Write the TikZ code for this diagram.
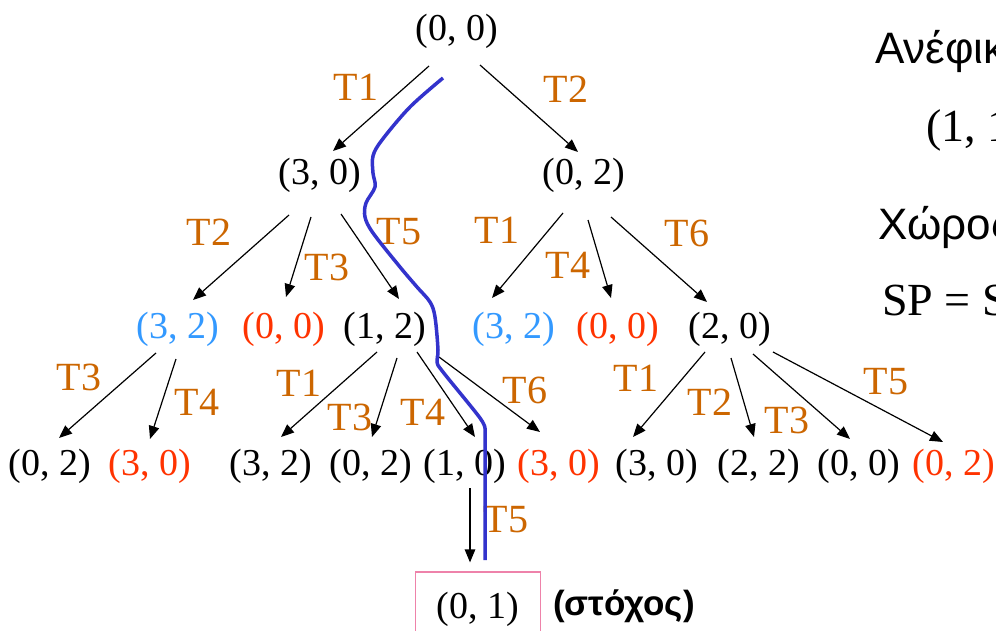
\documentclass[tikz,border=0pt]{standalone}
\usepackage{fontspec}
\setmainfont{Liberation Serif}
\newfontfamily\grsans{Liberation Sans}
\usetikzlibrary{arrows.meta,calc}
\definecolor{lblc}{RGB}{204,102,0}
\definecolor{bluen}{RGB}{51,153,255}
\definecolor{redn}{RGB}{255,51,0}
\definecolor{pathc}{RGB}{51,51,204}
\definecolor{pinkc}{RGB}{238,130,170}
\begin{document}
\begin{tikzpicture}[x=1pt,y=-1pt,
  st/.style={font=\fontsize{38}{40}\selectfont, inner sep=0pt, anchor=base},
  bst/.style={st, text=bluen},
  rst/.style={st, text=redn},
  lbl/.style={font=\fontsize{40}{42}\selectfont, text=lblc, inner sep=0pt},
  arr/.style={-{Triangle[length=13pt,width=10.5pt]}, line width=1.2pt},
  bigtxt/.style={font=\fontsize{46}{48}\selectfont, inner sep=0pt, anchor=base west},
  grtxt/.style={font=\grsans\fontsize{44}{46}\selectfont, inner sep=0pt, anchor=base west},
  solpath/.style={draw=pathc, line width=3.5pt, line join=round}
]
\useasboundingbox (0,0) rectangle (996,631);
\clip (0,0) rectangle (996,631);
\fill[white] (0,0) rectangle (996,631);

% nodes
\node[st] (r) at (457,41) {(0, 0)};
\node[st] (a) at (320,185) {(3, 0)};
\node[st] (b) at (584,185) {(0, 2)};
\node[bst] (c1) at (178,338) {(3, 2)};
\node[rst] (c2) at (284,338) {(0, 0)};
\node[st] (c3) at (385,338) {(1, 2)};
\node[bst] (c4) at (514,338) {(3, 2)};
\node[rst] (c5) at (618,338) {(0, 0)};
\node[st] (c6) at (730,338) {(2, 0)};
\node[st] (d1) at (50,475) {(0, 2)};
\node[rst] (d2) at (150,475) {(3, 0)};
\node[st] (d3) at (271,475) {(3, 2)};
\node[st] (d4) at (371,475) {(0, 2)};
\node[st] (d5) at (465,475) {(1, 0)};
\node[rst] (d6) at (559,475) {(3, 0)};
\node[st] (d7) at (657,475) {(3, 0)};
\node[st] (d8) at (759,475) {(2, 2)};
\node[st] (d9) at (859,475) {(0, 0)};
\node[rst] (d10) at (954,475) {(0, 2)};
\node[font=\fontsize{38}{40}\selectfont, draw=pinkc, line width=1.2pt,
      minimum width=125pt, minimum height=74pt, inner sep=0pt] (g) at (478,609) {(0, 1)};
\node[font=\grsans\bfseries\fontsize{35}{37}\selectfont, inner sep=0pt, anchor=base west] (gl) at (553,615) {(στόχος)};

% arrows
\draw[arr] ($(r.base)+(-28,25)$) -- ($(a.base)+(13,-34)$);
\draw[arr] ($(r.base)+(23,24)$) -- ($(b.base)+(-6,-33)$);
\draw[arr] ($(a.base)+(-31,30)$) -- ($(c1.base)+(15,-38)$);
\draw[arr] ($(a.base)+(-9,32)$) -- ($(c2.base)+(2,-41)$);
\draw[arr] ($(a.base)+(21,29)$) -- ($(c3.base)+(14,-39)$);
\draw[arr] ($(b.base)+(-21,28)$) -- ($(c4.base)+(-22,-40)$);
\draw[arr] ($(b.base)+(4,35)$) -- ($(c5.base)+(-7,-40)$);
\draw[arr] ($(b.base)+(27,32)$) -- ($(c6.base)+(-23,-36)$);
\draw[arr] ($(c1.base)+(-22,15)$) -- ($(d1.base)+(9,-37)$);
\draw[arr] ($(c1.base)+(-2,21)$) -- ($(d2.base)+(0,-36)$);
\draw[arr] ($(c3.base)+(-8,14)$) -- ($(d3.base)+(10,-38)$);
\draw[arr] ($(c3.base)+(12,20)$) -- ($(d4.base)+(1,-38)$);
\draw[arr] ($(c3.base)+(32,14)$) -- ($(d5.base)+(10,-38)$);
\draw[arr] ($(c3.base)+(54,19)$) -- ($(d6.base)+(-19,-43)$);
\draw[arr] ($(c6.base)+(-25,14)$) -- ($(d7.base)+(-24,-38)$);
\draw[arr] ($(c6.base)+(1,20)$) -- ($(d8.base)+(-5,-38)$);
\draw[arr] ($(c6.base)+(23,16)$) -- ($(d9.base)+(-9,-36)$);
\draw[arr] ($(c6.base)+(43,14)$) -- ($(d10.base)+(-11,-33)$);
\draw[arr] ($(d5.base)+(5,13)$) -- ($(g.north)+(-8,-9)$);

% labels
\node[lbl] (l1) at (356,87) {T1};
\node[lbl] (l2) at (566,89) {T2};
\node[lbl] (l3) at (209,232) {T2};
\node[lbl] (l4) at (327,267) {T3};
\node[lbl] (l5) at (399,232) {T5};
\node[lbl] (l6) at (497,230) {T1};
\node[lbl] (l7) at (568,265) {T4};
\node[lbl] (l8) at (687,233) {T6};
\node[lbl] (l9) at (79,377) {T3};
\node[lbl] (l10) at (197,402) {T4};
\node[lbl] (l11) at (299,383) {T1};
\node[lbl] (l12) at (350,417) {T3};
\node[lbl] (l13) at (423,412) {T4};
\node[lbl] (l14) at (525,390) {T6};
\node[lbl] (l15) at (636,378) {T1};
\node[lbl] (l16) at (710,402) {T2};
\node[lbl] (l17) at (787,420) {T3};
\node[lbl] (l18) at (886,382) {T5};
\node[lbl] (l19) at (506,520) {T5};

% solution path
\draw[solpath] plot[smooth, tension=0.55] coordinates {
  (443,78) (410,107) (382,140) (373,156) (373,173) (375,187) (366,203)
  (365,217) (373,233) (400,267) (417,287) (430,302) (435,317) (438,350)
  (437,362) (443,372) (480,418) (485,430)} -- (485,560);

% right side text (cut by the picture edge)
\node[grtxt] (t1) at (875,64) {Ανέφικτη};
\node[bigtxt] (t2) at (926,142) {(1, 1)};
\node[grtxt] (t3) at (878,240) {Χώρος};
\node[bigtxt] (t4) at (882,315) {SP = S};
\end{tikzpicture}
\end{document}
